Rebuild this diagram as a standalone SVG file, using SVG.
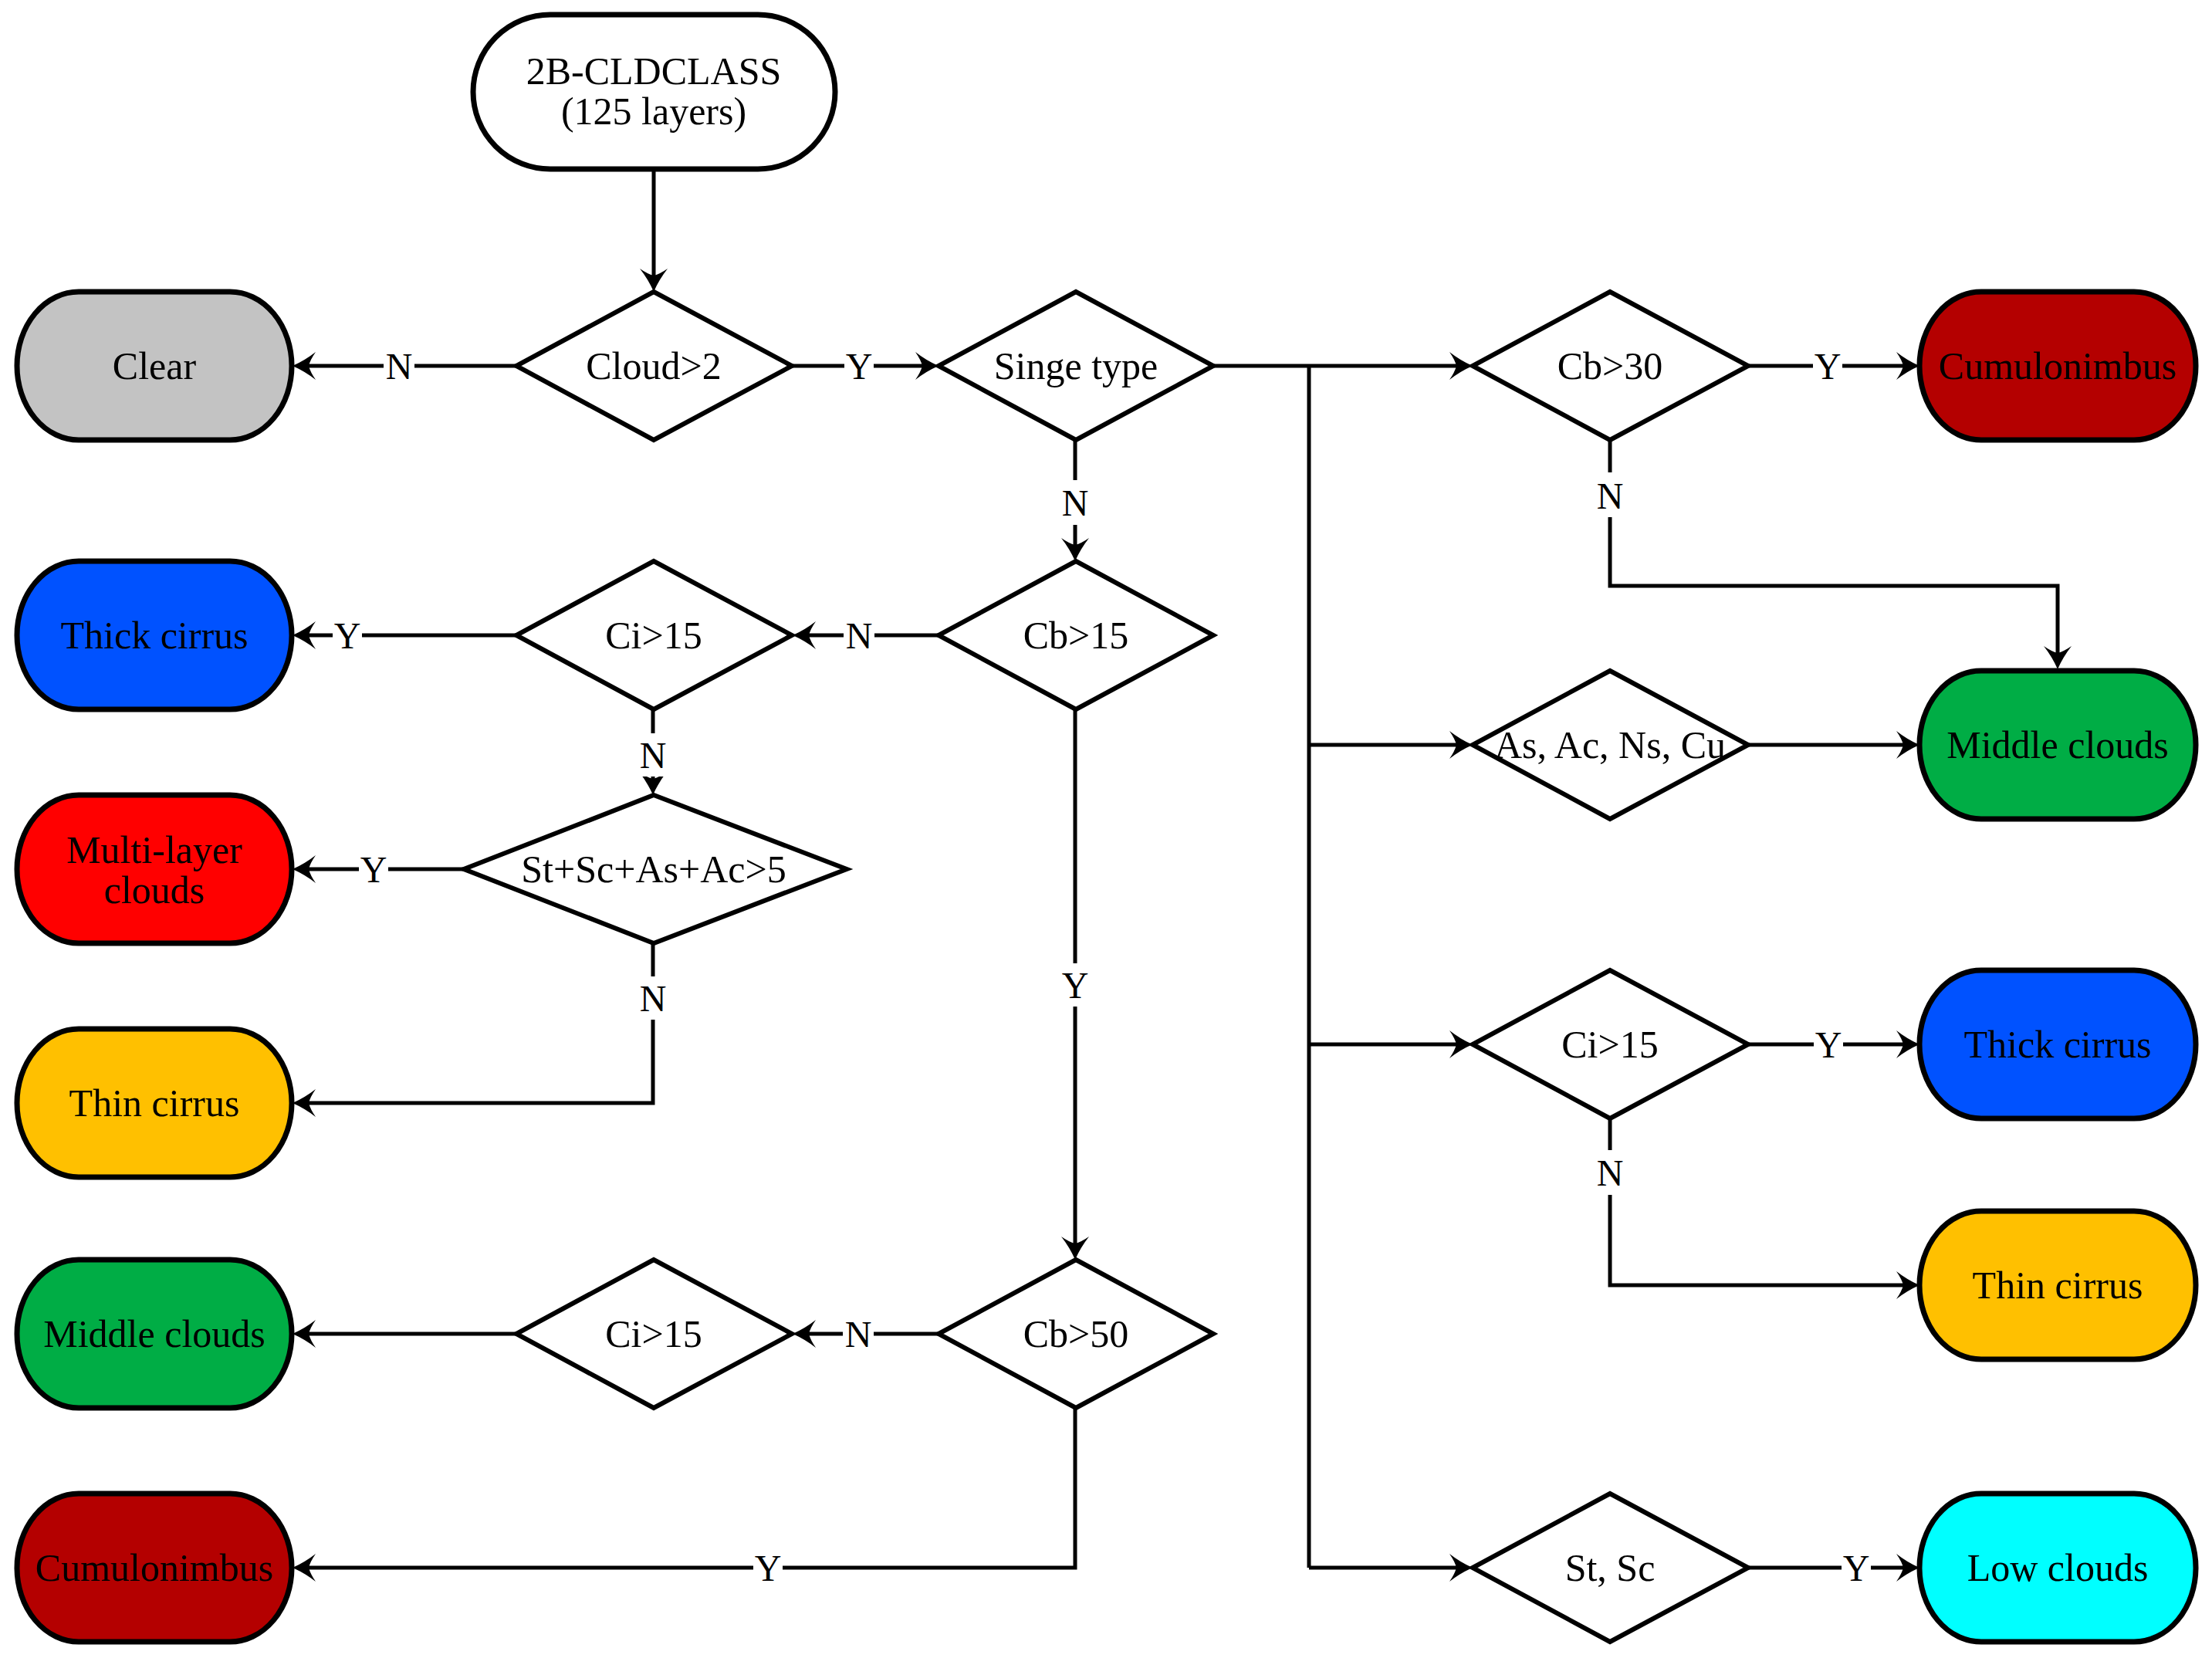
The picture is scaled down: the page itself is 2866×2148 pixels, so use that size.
<svg xmlns="http://www.w3.org/2000/svg" width="2866" height="2148" viewBox="0 0 2866 2148">
<defs>
<style>
.term{stroke:#000;stroke-width:7}
.dia{fill:#fff;stroke:#000;stroke-width:6;stroke-linejoin:miter}
.t{font-family:"Liberation Serif","Times New Roman",serif;font-size:50px;text-anchor:middle;fill:#000}
.lb{font-family:"Liberation Serif","Times New Roman",serif;font-size:48px;text-anchor:middle;fill:#000}
.c{fill:none;stroke:#000;stroke-width:5;stroke-linejoin:miter}
.a{marker-end:url(#arr)}
.bg{fill:#fff}
</style>
<marker id="arr" markerUnits="userSpaceOnUse" viewBox="-14 -20 36 40" refX="0" refY="0" markerWidth="36" markerHeight="40" orient="auto">
<path d="M20,0 Q4,-7 -10,-18 Q-3,-8 -1,0 Q-3,8 -10,18 Q4,7 20,0 Z" fill="#000"/>
</marker>
</defs>
<rect width="2866" height="2148" fill="#fff"/>

<g id="connectors">
<path class="c a" d="M847,219 V358"/>
<path class="c a" d="M669,474 H399"/>
<path class="c a" d="M1027,474 H1196"/>
<path class="c a" d="M1572,474 H1888"/>
<path class="c" d="M1696,474 V2031"/>
<path class="c a" d="M1696,965 H1888"/>
<path class="c a" d="M1696,1353 H1888"/>
<path class="c a" d="M1696,2031 H1888"/>
<path class="c a" d="M1393,570 V707"/>
<path class="c a" d="M1216,823 H1047"/>
<path class="c a" d="M669,823 H399"/>
<path class="c a" d="M846,919 V1010"/>
<path class="c a" d="M601,1126 H399"/>
<path class="c a" d="M846,1222 V1429 H399"/>
<path class="c a" d="M1393,919 V1612"/>
<path class="c a" d="M1216,1728 H1047"/>
<path class="c a" d="M669,1728 H399"/>
<path class="c a" d="M1393,1824 V2031 H399"/>
<path class="c a" d="M2265,474 H2467"/>
<path class="c a" d="M2086,570 V759 H2666 V847"/>
<path class="c a" d="M2265,965 H2467"/>
<path class="c a" d="M2265,1353 H2467"/>
<path class="c a" d="M2086,1449 V1665 H2467"/>
<path class="c a" d="M2265,2031 H2467"/>

<g id="labels">
<rect class="bg" x="497" y="450" width="40" height="50"/><text class="lb" x="517" y="491">N</text>
<rect class="bg" x="1094" y="450" width="38" height="50"/><text class="lb" x="1113" y="491">Y</text>
<rect class="bg" x="1373" y="622" width="40" height="58"/><text class="lb" x="1393" y="668">N</text>
<rect class="bg" x="1093" y="799" width="40" height="50"/><text class="lb" x="1113" y="840">N</text>
<rect class="bg" x="431" y="799" width="38" height="50"/><text class="lb" x="450" y="840">Y</text>
<rect class="bg" x="826" y="950" width="40" height="56"/><text class="lb" x="846" y="995">N</text>
<rect class="bg" x="465" y="1102" width="38" height="50"/><text class="lb" x="484" y="1143">Y</text>
<rect class="bg" x="826" y="1265" width="40" height="56"/><text class="lb" x="846" y="1310">N</text>
<rect class="bg" x="1374" y="1248" width="38" height="56"/><text class="lb" x="1393" y="1293">Y</text>
<rect class="bg" x="1092" y="1704" width="40" height="50"/><text class="lb" x="1112" y="1745">N</text>
<rect class="bg" x="976" y="2007" width="38" height="50"/><text class="lb" x="995" y="2048">Y</text>
<rect class="bg" x="2349" y="450" width="38" height="50"/><text class="lb" x="2368" y="491">Y</text>
<rect class="bg" x="2066" y="612" width="40" height="58"/><text class="lb" x="2086" y="659">N</text>
<rect class="bg" x="2350" y="1329" width="38" height="50"/><text class="lb" x="2369" y="1370">Y</text>
<rect class="bg" x="2066" y="1490" width="40" height="58"/><text class="lb" x="2086" y="1536">N</text>
<rect class="bg" x="2386" y="2007" width="38" height="50"/><text class="lb" x="2405" y="2048">Y</text>
</g>
</g>

<g id="start">
<rect class="term" x="613" y="19" width="469" height="200" rx="100" ry="100" fill="#fff"/>
<text class="t" x="847" y="109">2B-CLDCLASS</text>
<text class="t" x="847" y="161">(125 layers)</text>
</g>
<g id="cloud2">
<polygon class="dia" points="847,378 1026,474 847,570 669,474"/>
<text class="t" x="847" y="491">Cloud&gt;2</text>
</g>
<g id="clear">
<rect class="term" x="22" y="378" width="356" height="192" rx="80" ry="96" fill="#C3C3C3"/>
<text class="t" x="200" y="491">Clear</text>
</g>
<g id="singe">
<polygon class="dia" points="1394,378 1572,474 1394,570 1216,474"/>
<text class="t" x="1394" y="491">Singe type</text>
</g>
<g id="cb15">
<polygon class="dia" points="1394,727 1572,823 1394,919 1216,823"/>
<text class="t" x="1394" y="840">Cb&gt;15</text>
</g>
<g id="ci15a">
<polygon class="dia" points="847,727 1026,823 847,919 669,823"/>
<text class="t" x="847" y="840">Ci&gt;15</text>
</g>
<g id="thick1">
<rect class="term" x="22" y="727" width="356" height="192" rx="80" ry="96" fill="#0052FF"/>
<text class="t" x="200" y="840">Thick cirrus</text>
</g>
<g id="stsc4">
<polygon class="dia" points="847,1030 1097,1126 847,1222 601,1126"/>
<text class="t" x="847" y="1143">St+Sc+As+Ac&gt;5</text>
</g>
<g id="multi">
<rect class="term" x="22" y="1030" width="356" height="192" rx="80" ry="96" fill="#FF0000"/>
<text class="t" x="200" y="1118">Multi-layer</text>
<text class="t" x="200" y="1170">clouds</text>
</g>
<g id="thin1">
<rect class="term" x="22" y="1333" width="356" height="192" rx="80" ry="96" fill="#FFC000"/>
<text class="t" x="200" y="1446">Thin cirrus</text>
</g>
<g id="cb50">
<polygon class="dia" points="1394,1632 1572,1728 1394,1824 1216,1728"/>
<text class="t" x="1394" y="1745">Cb&gt;50</text>
</g>
<g id="ci15b">
<polygon class="dia" points="847,1632 1026,1728 847,1824 669,1728"/>
<text class="t" x="847" y="1745">Ci&gt;15</text>
</g>
<g id="middle1">
<rect class="term" x="22" y="1632" width="356" height="192" rx="80" ry="96" fill="#00AD45"/>
<text class="t" x="200" y="1745">Middle clouds</text>
</g>
<g id="cumulo1">
<rect class="term" x="22" y="1935" width="356" height="192" rx="80" ry="96" fill="#B40000"/>
<text class="t" x="200" y="2048">Cumulonimbus</text>
</g>
<g id="cb30">
<polygon class="dia" points="2086,378 2265,474 2086,570 1908,474"/>
<text class="t" x="2086" y="491">Cb&gt;30</text>
</g>
<g id="cumulo2">
<rect class="term" x="2487" y="378" width="358" height="192" rx="80" ry="96" fill="#B40000"/>
<text class="t" x="2666" y="491">Cumulonimbus</text>
</g>
<g id="asacnscu">
<polygon class="dia" points="2086,869 2265,965 2086,1061 1908,965"/>
<text class="t" x="2086" y="982">As, Ac, Ns, Cu</text>
</g>
<g id="middle2">
<rect class="term" x="2487" y="869" width="358" height="192" rx="80" ry="96" fill="#00AD45"/>
<text class="t" x="2666" y="982">Middle clouds</text>
</g>
<g id="ci15c">
<polygon class="dia" points="2086,1257 2265,1353 2086,1449 1908,1353"/>
<text class="t" x="2086" y="1370">Ci&gt;15</text>
</g>
<g id="thick2">
<rect class="term" x="2487" y="1257" width="358" height="192" rx="80" ry="96" fill="#0052FF"/>
<text class="t" x="2666" y="1370">Thick cirrus</text>
</g>
<g id="thin2">
<rect class="term" x="2487" y="1569" width="358" height="192" rx="80" ry="96" fill="#FFC000"/>
<text class="t" x="2666" y="1682">Thin cirrus</text>
</g>
<g id="stsc">
<polygon class="dia" points="2086,1935 2265,2031 2086,2127 1908,2031"/>
<text class="t" x="2086" y="2048">St, Sc</text>
</g>
<g id="low">
<rect class="term" x="2487" y="1935" width="358" height="192" rx="80" ry="96" fill="#00FFFF"/>
<text class="t" x="2666" y="2048">Low clouds</text>
</g>
</svg>
